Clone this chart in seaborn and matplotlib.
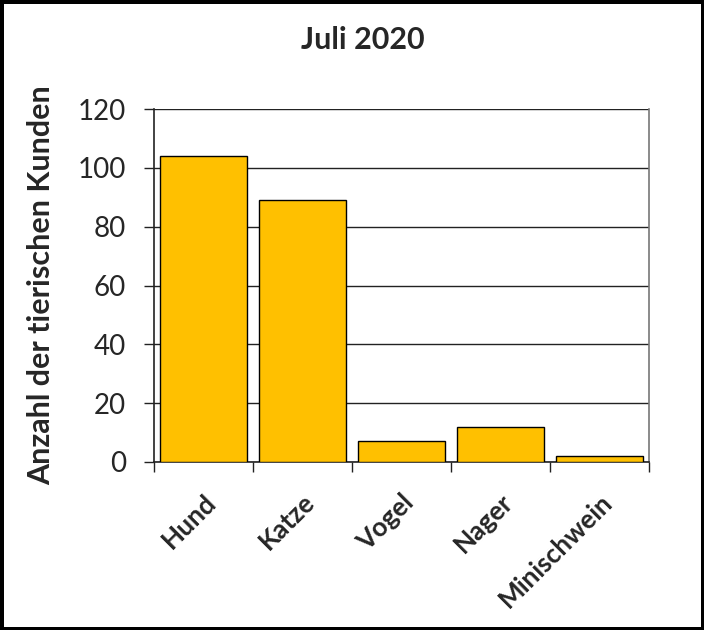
'''
Juli 2020 - tierische Kunden
'''
import seaborn as sns
import pandas as pd
import matplotlib.pyplot as plt
import numpy as np

tiere = ['Hund', 'Katze', 'Vogel', 'Nager', 'Minischwein']
anzahl = [104, 89, 7, 12, 2]
y_ticks = [0, 20, 40, 60, 80, 100, 120]

data = pd.DataFrame({'tier': tiere, 'anzahl': anzahl})

sns.set_style('white')
plt.rcParams['font.family'] = ['Lato', 'DejaVu Sans']

fig = plt.figure(figsize=(7.04, 6.3), dpi=100, linewidth=5, edgecolor='black')
ax = fig.add_axes([154/704, 1 - 462/630, (649 - 154)/704, (462 - 109)/630])

sns.barplot(data=data, x='tier', y='anzahl', color='#FFC000', saturation=1,
            width=0.88, edgecolor='black', linewidth=1, ax=ax, zorder=3)

ax.set_ylim(0, 120)
ax.set_xlim(-0.5, len(tiere) - 0.5)
ax.set_yticks(y_ticks)
ax.yaxis.grid(True, color='#222222', linewidth=1, zorder=0)
ax.set_axisbelow(True)

for s in ['left', 'bottom']:
    ax.spines[s].set_color('#222222')
    ax.spines[s].set_linewidth(1.2)
ax.spines['top'].set_visible(False)
ax.spines['right'].set_color('#777777')
ax.spines['right'].set_linewidth(1.2)

ax.tick_params(axis='y', which='major', direction='out', length=7, width=1,
               color='#222222', left=True, labelsize=20, pad=13)
ax.set_xticks(np.arange(-0.5, len(tiere), 1), minor=True)
ax.tick_params(axis='x', which='minor', direction='out', length=7, width=1,
               color='#222222', bottom=True)
ax.tick_params(axis='x', which='major', length=0, pad=20)
ax.set_xticklabels(tiere, rotation=45, ha='right', rotation_mode='anchor',
                   fontsize=19, fontweight='bold')

ax.set_xlabel('')
ax.set_ylabel('Anzahl der tierischen Kunden', fontsize=22, fontweight='bold', labelpad=16)
fig.text(363/704, 1 - 40/630, 'Juli 2020', ha='center', va='center', fontsize=22, fontweight='bold')

fig.savefig('out.png', dpi=100)
